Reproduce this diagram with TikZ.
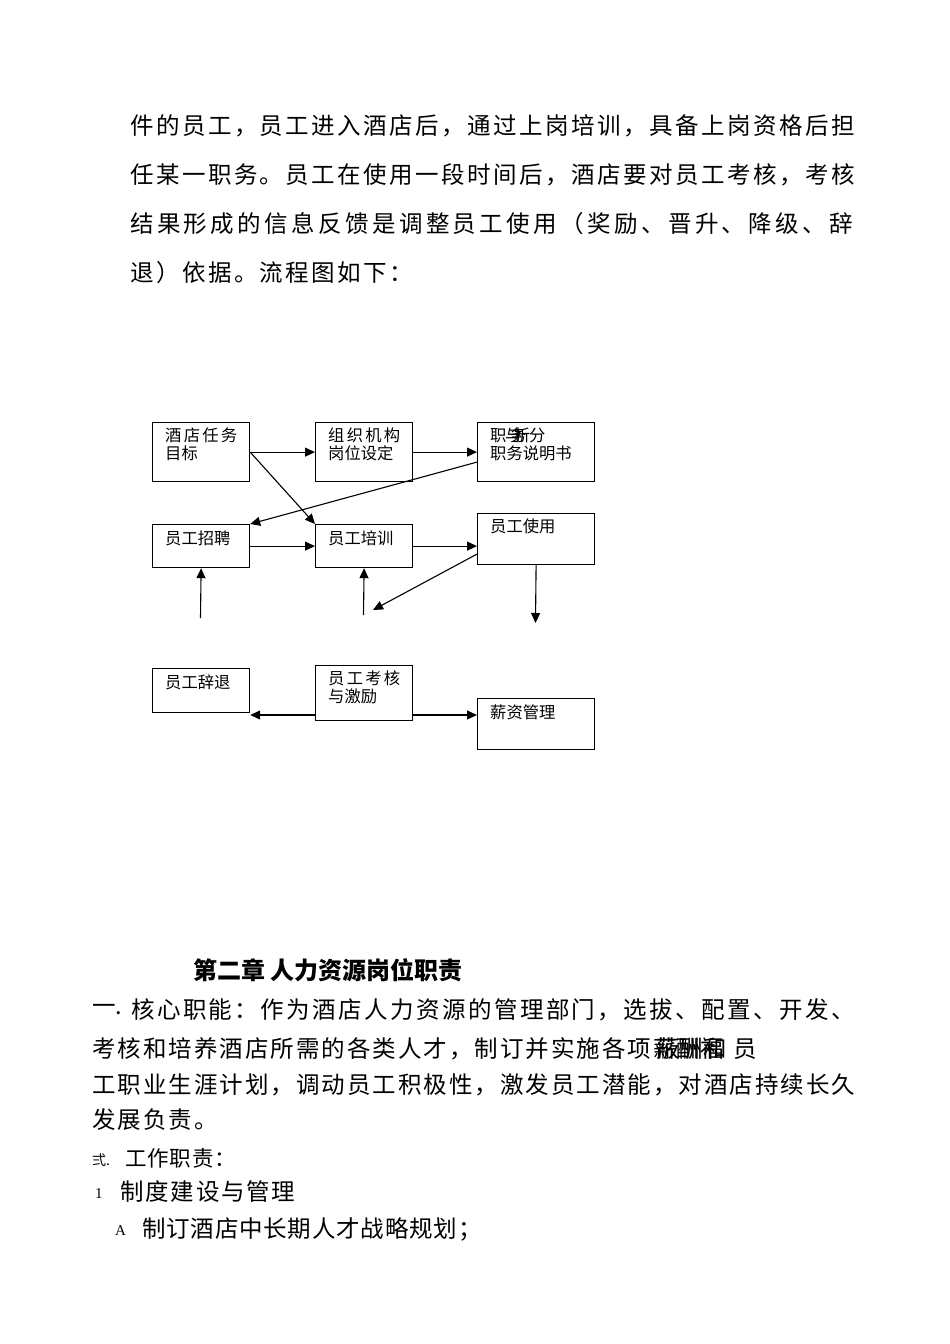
\documentclass[tikz,border=0pt]{standalone}
\usepackage{fontspec}
\setmainfont{Liberation Serif}
\newfontfamily\cjk{Noto Sans CJK SC}
\usetikzlibrary{arrows.meta,calc}
\makeatletter
\newcommand{\spr}[2]{\@tfor\sprx:=#2\do{\makebox[#1pt][l]{\sprx}}}
\makeatother
\tikzset{
  box/.style={draw, line width=1.2pt, anchor=north west, inner sep=0pt},
  lbl/.style={anchor=north west, inner sep=0pt, align=left, font=\cjk\fontsize{16.3}{17.5}\selectfont},
  arr/.style={line width=1.1pt, -{Triangle[length=10pt,width=9pt]}},
  ln/.style={anchor=west, inner sep=0pt},
  big/.style={ln, font=\cjk\fontsize{23.5}{28}\selectfont},
}
\begin{document}
\begin{tikzpicture}[x=1pt,y=-1pt]
\useasboundingbox (0,0) rectangle (950,1344);
% top paragraph
\node[big] (t1) at (130,126) {\spr{25.96}{件的员工，员工进入酒店后，通过上岗培训，具备上岗资格后担}};
\node[big] (t2) at (130,175) {\spr{25.96}{任某一职务。员工在使用一段时间后，酒店要对员工考核，考核}};
\node[big] (t3) at (130,224) {\spr{26.9}{结果形成的信息反馈是调整员工使用（奖励、晋升、降级、辞}};
\node[big] (t4) at (130,273) {\spr{25.96}{退）依据。流程图如下：}};
% boxes
\node[box, minimum width=97pt, minimum height=59pt] (b1) at (152,422) {};
\node[box, minimum width=97pt, minimum height=59pt] (b2) at (315,422) {};
\node[box, minimum width=117pt, minimum height=59pt] (b3) at (477,422) {};
\node[box, minimum width=97pt, minimum height=43pt] (b4) at (152,524) {};
\node[box, minimum width=97pt, minimum height=43pt] (b5) at (315,524) {};
\node[box, minimum width=117pt, minimum height=51pt] (b6) at (477,513) {};
\node[box, minimum width=97pt, minimum height=44pt] (b7) at (152,668) {};
\node[box, minimum width=97pt, minimum height=55pt] (b8) at (315,665) {};
\node[box, minimum width=117pt, minimum height=51pt] (b9) at (477,698) {};
% labels
\node[lbl] (l1) at (165,428) {\makebox[72pt][s]{酒\hfill 店\hfill 任\hfill 务}\\目标};
\node[lbl] (l2) at (328,428) {\makebox[72pt][s]{组\hfill 织\hfill 机\hfill 构}\\岗位设定};
\node[lbl] (l3a) at (490,428) {职};
\node[lbl] (l3b) at (505,428) {与};
\node[lbl] (l3c) at (510,428) {务};
\node[lbl] (l3d) at (514,428) {析};
\node[lbl] (l3e) at (529,428) {分};
\node[lbl] (l3) at (490,445.5) {职务说明书};
\node[lbl] (l4) at (165,531) {员工招聘};
\node[lbl] (l5) at (328,531) {员工培训};
\node[lbl] (l6) at (490,519) {员工使用};
\node[lbl] (l7) at (165,675) {员工辞退};
\node[lbl] (l8) at (328,671) {\makebox[72pt][s]{员\hfill 工\hfill 考\hfill 核}\\与激励};
\node[lbl] (l9) at (490,705) {薪资管理};
% free ends
\coordinate (c1) at (373,610);
\coordinate (c2) at (200.5,618);
\coordinate (c3) at (363.5,615);
\coordinate (c4) at (535.5,623);
\coordinate (yb) at (0,715);
% connectors
\draw[arr] (b1.east) -- (b2.west);
\draw[arr] (b2.east) -- (b3.west);
\draw[arr] (b1.east) -- (b5.north west);
\draw[arr] ($(b3.west)+(0,10)$) -- (b4.north east);
\draw[arr] (b4.east) -- (b5.west);
\draw[arr] (b5.east) -- (b5.east -| b6.west);
\draw[arr] ($(b6.west)+(0,15)$) -- (c1);
\draw[arr] (c2) -- (b4.south);
\draw[arr] (c3) -- (b5.south);
\draw[arr] (b6.south) -- (c4);
\draw[arr] (b8.west |- yb) -- (b7.east |- yb);
\draw[arr] (b8.east |- yb) -- (b9.west |- yb);
% chapter
\node[ln, font=\cjk\bfseries\fontsize{24}{28}\selectfont] (h) at (193,970) {第二章 人力资源岗位职责};
\node[big] (p1n) at (92,1010) {一.};
\node[big] (p1) at (131,1010) {\spr{25.93}{核心职能：作为酒店人力资源的管理部门，选拔、配置、开发、}};
\node[big] (p2) at (92,1049) {\spr{25.5}{考核和培养酒店所需的各类人才，制订并实施各项}};
\node[big] (p2b) at (653,1049) {\spr{23.5}{薪酬福}};
\node[big] (p2c) at (656,1049) {\spr{23.5}{蔽酬和}};
\node[big] (p2d) at (733,1049) {员};
\node[big] (p3) at (92,1085) {\spr{25.5}{工职业生涯计划，调动员工积极性，激发员工潜能，对酒店持续长久}};
\node[big] (p4) at (92,1120) {\spr{25.5}{发展负责。}};
\node[ln, font=\cjk\fontsize{14}{16}\selectfont] (n2) at (92,1160) {弍.};
\node[ln, font=\cjk\fontsize{21.5}{26}\selectfont] (p5) at (125,1158) {\spr{22.4}{工作职责：}};
\node[ln, font=\fontsize{15}{16}\selectfont] (n3) at (95,1194) {1};
\node[big] (p6) at (120,1192) {\spr{25.3}{制度建设与管理}};
\node[ln, font=\fontsize{15}{16}\selectfont] (n4) at (115,1231) {A};
\node[big] (p7) at (142,1229) {\spr{24.3}{制订酒店中长期人才战略规划；}};
\end{tikzpicture}
\end{document}
